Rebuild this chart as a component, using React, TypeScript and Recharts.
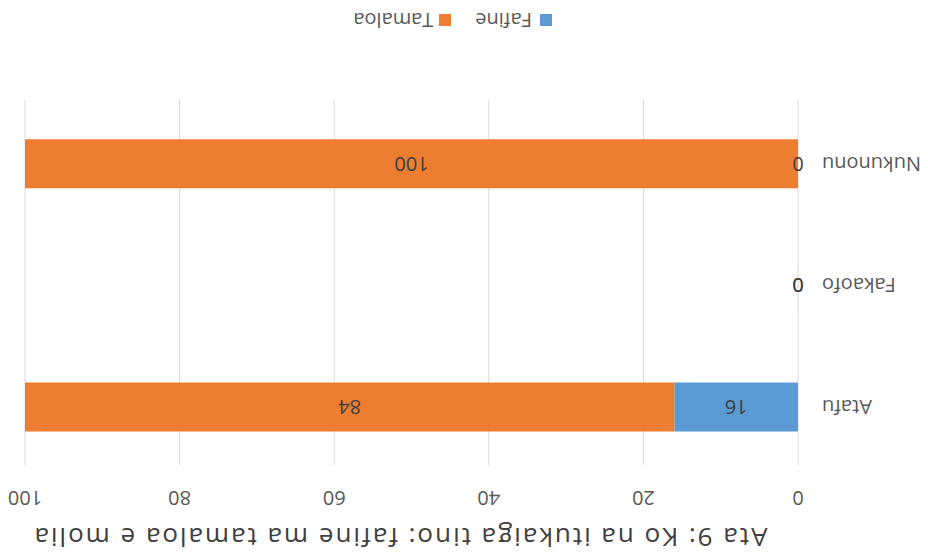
import React from "react";
import { BarChart, Bar, XAxis, YAxis, CartesianGrid, LabelList } from "recharts";

const places = ["Atafu", "Fakaofo", "Nukunonu"];
const fafine = [16, 0, 0];
const tamaloa = [84, 0, 100];
const xTicks = [0, 20, 40, 60, 80, 100];

const FONT = '"Open Sans", "Noto Sans", sans-serif';
const BLUE = "#5B9BD5";
const ORANGE = "#ED7D31";

const rows = places.map((place, i) => ({
  place,
  fafine: fafine[i],
  tamaloa: tamaloa[i]
}));

export default function App() {
  // the reference is upside down, so the whole chart is turned 180deg
  return (
    <div
      style={{
        position: "absolute",
        left: 0,
        top: 0,
        width: 928,
        height: 556,
        background: "#fff",
        transform: "rotate(180deg)",
        fontFamily: FONT
      }}
    >
      <div
        style={{
          position: "absolute",
          left: 100,
          width: 856,
          top: 0,
          textAlign: "center",
          fontSize: 26,
          letterSpacing: 2,
          color: "#404040",
          whiteSpace: "nowrap"
        }}
      >
        Ata 9: Ko na itukaiga tino: fafine ma tamaloa e molia
      </div>
      <BarChart
        width={928}
        height={556}
        layout="vertical"
        data={rows}
        margin={{ top: 48, right: 25, bottom: 103, left: 0 }}
        barCategoryGap="30%"
        style={{ fontFamily: FONT }}
      >
        <CartesianGrid horizontal={false} stroke="#d9d9d9" y={91} height={365} />
        <XAxis
          type="number"
          orientation="top"
          domain={[0, 100]}
          ticks={xTicks}
          height={40}
          axisLine={false}
          tickLine={false}
          tickSize={0}
          tickMargin={23}
          tick={{ fill: "#595959", fontSize: 20 }}
        />
        <YAxis
          type="category"
          dataKey="place"
          width={130}
          axisLine={false}
          tickLine={false}
          tickSize={0}
          tickMargin={24}
          tick={{ fill: "#595959", fontSize: 20 }}
        />
        <Bar dataKey="fafine" stackId="a" fill={BLUE} minPointSize={0.01} isAnimationActive={false}>
          <LabelList dataKey="fafine" position="center" fill="#404040" fontSize={20} />
        </Bar>
        <Bar dataKey="tamaloa" stackId="a" fill={ORANGE} minPointSize={0.01} isAnimationActive={false}>
          <LabelList dataKey="tamaloa" position="center" fill="#404040" fontSize={20} />
        </Bar>
      </BarChart>
      <div
        style={{
          position: "absolute",
          top: 522,
          left: 376,
          display: "flex",
          fontSize: 20,
          color: "#595959",
          lineHeight: "28px",
          whiteSpace: "nowrap"
        }}
      >
        <span style={{ display: "flex", alignItems: "center", marginRight: 24 }}>
          <span style={{ width: 12, height: 12, background: BLUE, marginRight: 8 }} />
          Fafine
        </span>
        <span style={{ display: "flex", alignItems: "center" }}>
          <span style={{ width: 12, height: 12, background: ORANGE, marginRight: 6 }} />
          Tamaloa
        </span>
      </div>
    </div>
  );
}
